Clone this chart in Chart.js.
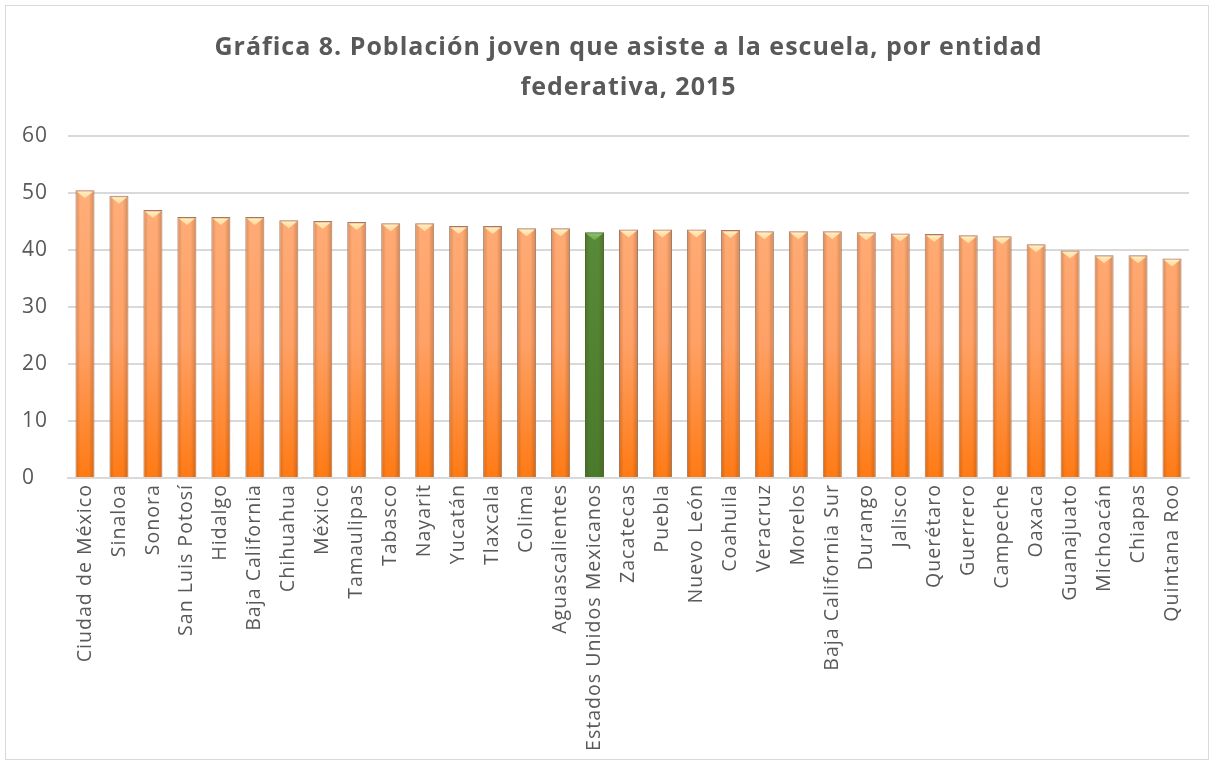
<!DOCTYPE html>
<html lang="es">
<head>
<meta charset="utf-8">
<title>Gráfica 8</title>
<script src="https://cdn.jsdelivr.net/npm/chart.js@4.4.1/dist/chart.umd.min.js"></script>
<style>
    html, body { margin: 0; padding: 0; background: #fff; }
    #wrap {
        position: absolute;
        left: 5px; top: 5px;
        width: 1202px; height: 753px;
        border: 1px solid #d9d9d9;
    }
</style>
</head>
<body>
<div id="wrap"><canvas id="chart"></canvas></div>
<script>
// Datos
const entidades = [
    'Ciudad de México', 'Sinaloa', 'Sonora', 'San Luis Potosí', 'Hidalgo',
    'Baja California', 'Chihuahua', 'México', 'Tamaulipas', 'Tabasco',
    'Nayarit', 'Yucatán', 'Tlaxcala', 'Colima', 'Aguascalientes',
    'Estados Unidos Mexicanos', 'Zacatecas', 'Puebla', 'Nuevo León', 'Coahuila',
    'Veracruz', 'Morelos', 'Baja California Sur', 'Durango', 'Jalisco',
    'Querétaro', 'Guerrero', 'Campeche', 'Oaxaca', 'Guanajuato',
    'Michoacán', 'Chiapas', 'Quintana Roo'
];
const asistencia = [
    50.5, 49.5, 47.0, 45.8, 45.8,
    45.8, 45.2, 45.1, 44.9, 44.7,
    44.7, 44.2, 44.2, 43.8, 43.8,
    43.1, 43.6, 43.6, 43.6, 43.5,
    43.3, 43.3, 43.3, 43.1, 42.9,
    42.8, 42.6, 42.4, 41.0, 39.9,
    39.1, 39.1, 38.5
];
const nacional = 'Estados Unidos Mexicanos';
const yTicks = [0, 10, 20, 30, 40, 50, 60];

const GRAY = '#595959';

function barFill(context) {
    const chart = context.chart;
    const area = chart.chartArea;
    if (!area) return '#FF9A50';
    const isNat = entidades[context.dataIndex] === nacional;
    const g = chart.ctx.createLinearGradient(0, area.top + 40, 0, area.bottom);
    if (isNat) {
        g.addColorStop(0, '#5B8E3C');
        g.addColorStop(1, '#4A7A2B');
    } else {
        g.addColorStop(0, '#FFAF7C');
        g.addColorStop(0.55, '#FFA166');
        g.addColorStop(1, '#FF7A14');
    }
    return g;
}

// espaciado de letras parecido al original (el canvas lo pierde al redimensionar)
const spacing = {
    id: 'spacing',
    beforeUpdate(chart) { chart.ctx.letterSpacing = '1px'; },
    beforeDraw(chart) { chart.ctx.letterSpacing = '1px'; },
};

// Sombreado lateral y tapa triangular de cada barra
const barCaps = {
    id: 'barCaps',
    afterDatasetsDraw(chart) {
        const ctx = chart.ctx;
        const meta = chart.getDatasetMeta(0);
        meta.data.forEach((bar, i) => {
            const w = bar.width;
            const left = bar.x - w / 2;
            const right = bar.x + w / 2;
            const top = bar.y;
            const bottom = bar.base;
            ctx.save();
            const sh = ctx.createLinearGradient(left, 0, right, 0);
            sh.addColorStop(0, 'rgba(90,40,0,0.25)');
            sh.addColorStop(0.25, 'rgba(90,40,0,0)');
            sh.addColorStop(0.7, 'rgba(90,40,0,0)');
            sh.addColorStop(1, 'rgba(90,40,0,0.28)');
            ctx.fillStyle = sh;
            ctx.fillRect(left + 1, top + 1, w - 2, bottom - top - 1);

            const isNat = entidades[i] === nacional;
            ctx.beginPath();
            ctx.moveTo(left + 1.5, top + 1.5);
            ctx.lineTo(right - 1.5, top + 1.5);
            ctx.lineTo(bar.x, top + 8);
            ctx.closePath();
            const cap = ctx.createLinearGradient(0, top, 0, top + 8);
            if (isNat) {
                cap.addColorStop(0, '#8CC66A');
                cap.addColorStop(1, '#6FA84C');
            } else {
                cap.addColorStop(0, '#FFF3C8');
                cap.addColorStop(1, '#FFD89A');
            }
            ctx.fillStyle = cap;
            ctx.fill();
            ctx.restore();
        });
    }
};

const chart = new Chart(document.getElementById('chart'), {
    type: 'bar',
    data: {
        labels: entidades,
        datasets: [{
            label: 'Población joven que asiste a la escuela',
            data: asistencia,
            backgroundColor: barFill,
            borderColor: ctx => entidades[ctx.dataIndex] === nacional ? '#3F6A25' : '#A07A66',
            borderWidth: 1,
            borderSkipped: 'bottom',
            barPercentage: 0.56,
            categoryPercentage: 1.0,
        }],
    },
    options: {
        responsive: true,
        maintainAspectRatio: false,
        animation: false,
        layout: { padding: { left: 16, right: 19, top: 18, bottom: 2 } },
        plugins: {
            legend: { display: false },
            tooltip: { enabled: false },
            title: {
                display: true,
                fullSize: false,
                text: ['Gráfica 8. Población joven que asiste a la escuela, por entidad',
                       'federativa, 2015'],
                color: GRAY,
                font: { family: 'Open Sans', size: 25, weight: 'bold', lineHeight: 1.6 },
                padding: { top: 4, bottom: 28 },
            },
        },
        scales: {
            x: {
                grid: { display: false, drawTicks: false },
                border: { color: '#d9d9d9', width: 2 },
                ticks: {
                    color: GRAY,
                    font: { family: 'Open Sans', size: 19.6 },
                    maxRotation: 90,
                    minRotation: 90,
                    autoSkip: false,
                    padding: 6,
                },
            },
            y: {
                min: 0,
                max: 60,
                afterBuildTicks: axis => { axis.ticks = yTicks.map(v => ({ value: v })); },
                afterFit: axis => { axis.width = 46; },
                grid: { color: '#d9d9d9', lineWidth: 2, drawTicks: false },
                border: { display: false },
                ticks: {
                    color: GRAY,
                    font: { family: 'Open Sans', size: 21 },
                    crossAlign: 'far',
                    padding: 20,
                },
            },
        },
    },
    plugins: [spacing, barCaps],
});
</script>
</body>
</html>
